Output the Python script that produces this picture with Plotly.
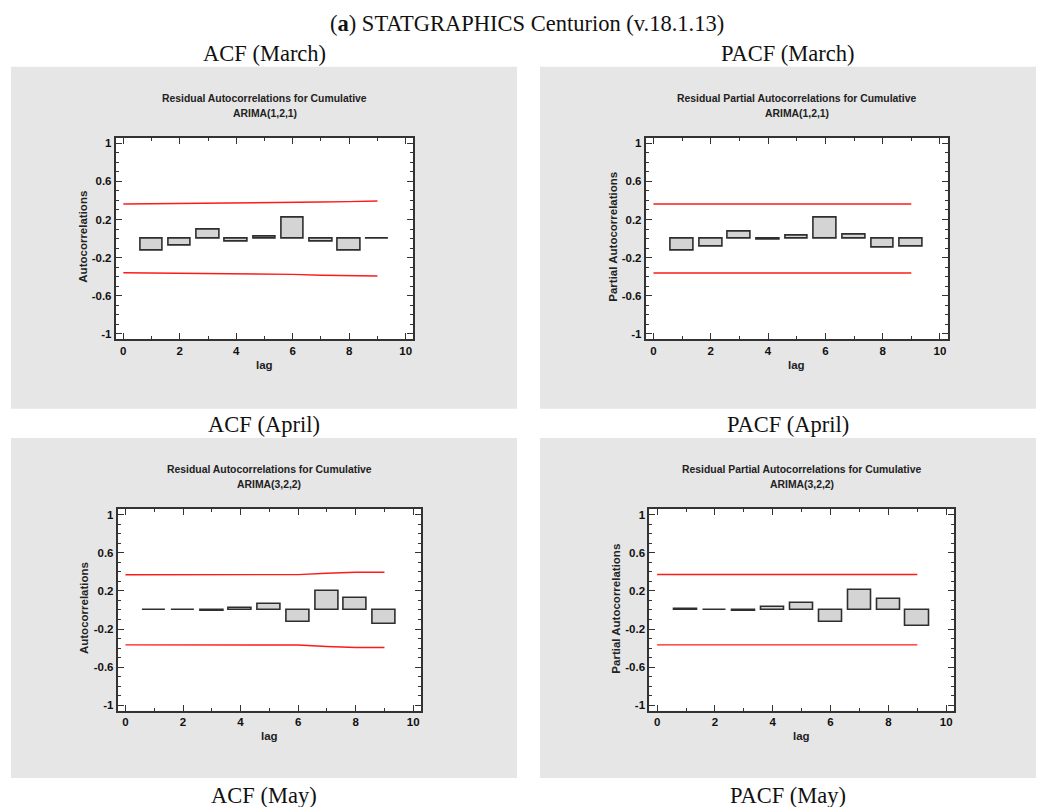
import plotly.graph_objects as go

W, H = 1047, 807

# ---------------- data ----------------
lags = [1, 2, 3, 4, 5, 6, 7, 8, 9]
band_lags = [0, 1, 2, 3, 4, 5, 6, 7, 8, 9]

acf_march = [-0.128, -0.075, 0.093, -0.03, 0.019, 0.218, -0.03, -0.128, -0.005]
acf_march_upper = [0.362, 0.364, 0.370, 0.372, 0.376, 0.378, 0.378, 0.383, 0.388, 0.395]
acf_march_lower = [-0.358, -0.360, -0.364, -0.368, -0.372, -0.374, -0.375, -0.385, -0.388, -0.393]

pacf_march = [-0.128, -0.09, 0.072, -0.008, 0.03, 0.218, 0.04, -0.10, -0.082]
pacf_march_upper = [0.362] * 10
pacf_march_lower = [-0.360] * 10

acf_april = [0.003, -0.005, -0.015, 0.025, 0.063, -0.13, 0.196, 0.122, -0.145]
acf_april_upper = [0.369, 0.369, 0.369, 0.369, 0.369, 0.369, 0.370, 0.385, 0.395, 0.395]
acf_april_lower = [-0.366, -0.366, -0.366, -0.366, -0.366, -0.366, -0.368, -0.383, -0.393, -0.393]

pacf_april = [0.008, -0.005, -0.015, 0.03, 0.068, -0.128, 0.21, 0.12, -0.17]
pacf_april_upper = [0.371] * 10
pacf_april_lower = [-0.366] * 10

y_tickvals = [-1, -0.6, -0.2, 0.2, 0.6, 1]
y_ticktext = ["-1", "-0.6", "-0.2", "0.2", "0.6", "1"]
x_tickvals = [0, 2, 4, 6, 8, 10]

main_title = "(<b>a</b>) STATGRAPHICS Centurion (v.18.1.13)"
panel_titles = ["ACF (March)", "PACF (March)", "ACF (April)", "PACF (April)", "ACF (May)", "PACF (May)"]
chart_line1 = ["Residual Autocorrelations for Cumulative",
               "Residual Partial Autocorrelations for Cumulative",
               "Residual Autocorrelations for Cumulative",
               "Residual Partial Autocorrelations for Cumulative"]
chart_line2 = ["ARIMA(1,2,1)", "ARIMA(1,2,1)", "ARIMA(3,2,2)", "ARIMA(3,2,2)"]
y_titles = ["Autocorrelations", "Partial Autocorrelations", "Autocorrelations", "Partial Autocorrelations"]

# ---------------- layout helpers ----------------
def px(x):
    return x / W

def py(y):
    return 1 - y / H

# plot frames (pixels): left, right, top, bottom
frames = [
    (115.7, 413.3, 137.7, 339.3),
    (645.7, 947.7, 137.7, 339.3),
    (117.7, 421.0, 509.0, 710.7),
    (649.3, 954.0, 509.0, 710.7),
]
# gray panel backgrounds (pixels)
panels = [
    (11, 517, 66.7, 408.7),
    (540, 1036, 66.7, 408.7),
    (11, 517, 438, 778),
    (540, 1036, 438, 778),
]

series = [
    (acf_march, acf_march_upper, acf_march_lower),
    (pacf_march, pacf_march_upper, pacf_march_lower),
    (acf_april, acf_april_upper, acf_april_lower),
    (pacf_april, pacf_april_upper, pacf_april_lower),
]

fig = go.Figure()

sans = "Liberation Sans, Arial, sans-serif"
serif = "Liberation Serif, Times New Roman, serif"
axcol = "#333333"

annotations = []
shapes = []

for i in range(4):
    ax = "" if i == 0 else str(i + 1)
    xref = "x" + ax
    yref = "y" + ax
    vals, up, lo = series[i]
    fig.add_trace(go.Bar(
        x=lags, y=vals, width=0.8, base=0,
        marker=dict(color="#d4d4d4", line=dict(color="#2e2e2e", width=1.6)),
        xaxis=xref, yaxis=yref, showlegend=False,
    ))
    fig.add_trace(go.Scatter(
        x=band_lags, y=up, mode="lines", line=dict(color="#ff1a1a", width=1.4),
        xaxis=xref, yaxis=yref, showlegend=False,
    ))
    fig.add_trace(go.Scatter(
        x=band_lags, y=lo, mode="lines", line=dict(color="#ff1a1a", width=1.4),
        xaxis=xref, yaxis=yref, showlegend=False,
    ))
    l, r, t, b = frames[i]
    fig.layout["xaxis" + ax] = dict(
        domain=[px(l), px(r)], range=[-0.27, 10.27], anchor=yref,
        tickvals=x_tickvals, ticks="inside", ticklen=6, tickwidth=1.3, tickcolor=axcol,
        minor=dict(dtick=1, tick0=0, ticks="inside", ticklen=3, tickcolor=axcol, tickwidth=1.2),
        showline=True, linecolor=axcol, linewidth=1.8, mirror="allticks",
        showgrid=False, zeroline=False, fixedrange=True,
        tickfont=dict(family=sans, size=11.5, color="#111", weight="bold"),
        automargin=False,
    )
    fig.layout["yaxis" + ax] = dict(
        domain=[py(b), py(t)], range=[-1.056, 1.058], anchor=xref,
        tickvals=y_tickvals, ticktext=y_ticktext,
        ticks="inside", ticklen=6, tickwidth=1.3, tickcolor=axcol,
        minor=dict(dtick=0.1, tick0=0, ticks="inside", ticklen=3, tickcolor=axcol, tickwidth=1.2),
        showline=True, linecolor=axcol, linewidth=1.8, mirror="allticks",
        showgrid=False, zeroline=False, fixedrange=True,
        tickfont=dict(family=sans, size=11.5, color="#111", weight="bold"),
        automargin=False,
    )
    cx = (l + r) / 2
    # chart titles (two lines)
    annotations.append(dict(x=px(cx), y=py(t - 39.5), xref="paper", yref="paper",
                            text="<b>" + chart_line1[i] + "</b>", showarrow=False,
                            xanchor="center", yanchor="middle",
                            font=dict(family=sans, size=10.4, color="#222")))
    annotations.append(dict(x=px(cx), y=py(t - 24.5), xref="paper", yref="paper",
                            text="<b>" + chart_line2[i] + "</b>", showarrow=False,
                            xanchor="center", yanchor="middle",
                            font=dict(family=sans, size=10.4, color="#222")))
    # axis titles
    annotations.append(dict(x=px(l - 33), y=py((t + b) / 2 - 1.5), xref="paper", yref="paper",
                            text="<b>" + y_titles[i] + "</b>", showarrow=False, textangle=-90,
                            xanchor="center", yanchor="middle",
                            font=dict(family=sans, size=11.5, color="#222")))
    annotations.append(dict(x=px(cx), y=py(b + 25.5), xref="paper", yref="paper",
                            text="<b>lag</b>", showarrow=False,
                            xanchor="center", yanchor="middle",
                            font=dict(family=sans, size=11.5, color="#222")))
    pl, pr, pt, pb = panels[i]
    shapes.append(dict(type="rect", xref="paper", yref="paper",
                       x0=px(pl), x1=px(pr), y0=py(pb), y1=py(pt),
                       fillcolor="#e6e6e6", line=dict(width=0), layer="below"))
    shapes.append(dict(type="rect", xref="paper", yref="paper",
                       x0=px(l), x1=px(r), y0=py(b), y1=py(t),
                       fillcolor="white", line=dict(width=0), layer="below"))

# outer titles
annotations.append(dict(x=px(527), y=py(24), xref="paper", yref="paper", text=main_title,
                        showarrow=False, xanchor="center", yanchor="middle",
                        font=dict(family=serif, size=22.5, color="#111")))
title_pos = [(264, 54), (788, 54), (264, 424.5), (788, 424.5), (264, 795), (788, 795)]
for (tx, ty), txt in zip(title_pos, panel_titles):
    annotations.append(dict(x=px(tx), y=py(ty), xref="paper", yref="paper", text=txt,
                            showarrow=False, xanchor="center", yanchor="middle",
                            font=dict(family=serif, size=22.5, color="#111")))

fig.update_layout(
    width=W, height=H,
    margin=dict(l=0, r=0, t=0, b=0),
    paper_bgcolor="white", plot_bgcolor="rgba(0,0,0,0)",
    annotations=annotations, shapes=shapes,
    showlegend=False, bargap=0,
)

fig.write_html("out.html", config={"displayModeBar": False},
               post_script="document.body.style.margin='0px';document.body.style.overflow='hidden';")
